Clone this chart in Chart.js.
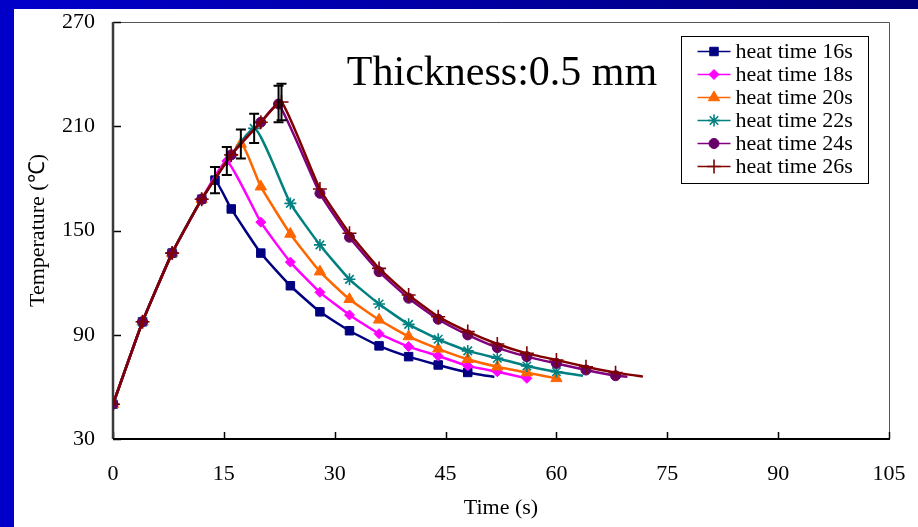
<!DOCTYPE html>
<html>
<head>
<meta charset="utf-8">
<script src="https://cdn.jsdelivr.net/npm/chart.js@4"></script>
<style>
  html, body { margin: 0; padding: 0; background: #fff; }
  #wrap { position: relative; width: 918px; height: 527px; overflow: hidden; }
  #topBar { position: absolute; left: 0; top: 0; width: 918px; height: 9px; background: linear-gradient(to right, #0000cc, #00007a); }
  #leftBar { position: absolute; left: 0; top: 0; width: 14px; height: 527px; background: #0000c8; }
  canvas { position: absolute; left: 0; top: 0; }
</style>
</head>
<body>
<div id="wrap">
  <canvas id="tempChart" width="918" height="527"></canvas>
  <div id="topBar"></div>
  <div id="leftBar"></div>
</div>
<script>
// Series names
const seriesLabels = ['heat time 16s', 'heat time 18s', 'heat time 20s', 'heat time 22s', 'heat time 24s', 'heat time 26s'];

// Time (s) and temperature (°C)
const time16 = [0, 4, 8, 12, 13.8, 16, 20, 24, 28, 32, 36, 40, 44, 48, 51.6];
const temp16 = [50, 97.5, 137, 168, 179, 162.4, 137, 118.2, 103.2, 92.3, 83.6, 77.4, 72.6, 68.3, 65.7];

const time18 = [0, 4, 8, 12, 15.4, 20, 24, 28, 32, 36, 40, 44, 48, 52, 56];
const temp18 = [50, 97.5, 137, 168, 190, 154.8, 131.8, 114.4, 101.4, 90.6, 83.2, 77.8, 72.1, 68.7, 64.9];

const time20 = [0, 4, 8, 12, 17.3, 20, 24, 28, 32, 36, 40, 44, 48, 52, 56, 60];
const temp20 = [50, 97.5, 137, 168, 199.8, 175.2, 148, 126.3, 110.4, 98.6, 89, 81.9, 75.9, 71.6, 68.2, 64.9];

const time22 = [0, 4, 8, 12, 19.1, 24, 28, 32, 36, 40, 44, 48, 52, 56, 60, 63.6];
const temp22 = [50, 97.5, 137, 168, 208.8, 165.6, 141.7, 121.9, 107.7, 96, 87.4, 80.7, 76.5, 72, 68.7, 66.4];

const time24 = [0, 4, 8, 12, 16, 20, 22.4, 28, 32, 36, 40, 44, 48, 52, 56, 60, 64, 68, 69.6];
const temp24 = [50, 97.5, 137, 168, 193.5, 212.3, 222.8, 171.4, 146.1, 126.3, 111, 98.9, 89.9, 82.6, 77.4, 73.5, 69.7, 66.4, 65.8];

const time26 = [0, 4, 8, 12, 16, 20, 22.8, 28, 32, 36, 40, 44, 48, 52, 56, 60, 64, 68, 71.7];
const temp26 = [50, 97.5, 137, 168, 193.5, 212.3, 224, 173.9, 148.4, 128.2, 112.9, 100.4, 91.8, 84.7, 79.3, 75.5, 71.6, 68.2, 65.9];

// Error bar half-height at each curve's peak (°C)
const peakError = [7.5, 8, 8.3, 8.4, 10.5, 10.5];
// Whether the last sample of a curve has a marker
const lastMarked = [false, true, true, false, false, false];

// Axis ticks
const xTickValues = [0, 15, 30, 45, 60, 75, 90, 105];
const yTickValues = [30, 90, 150, 210, 270];

const allTimes = [time16, time18, time20, time22, time24, time26];
const allTemps = [temp16, temp18, temp20, temp22, temp24, temp26];

// Marker / line look for each series
const styles = [
    { line: '#000080', fill: '#000080', point: 'rect', radius: 6 },
    { line: '#ff00ff', fill: '#ff00ff', point: 'rectRot', radius: 5 },
    { line: '#ff6600', fill: '#ff6600', point: 'triangle', radius: 6.5 },
    { line: '#008080', fill: '#008080', point: 'star', radius: 6 },
    { line: '#800080', fill: '#660066', point: 'circle', radius: 5 },
    { line: '#800000', fill: '#800000', point: 'cross', radius: 7 }
];

const serif = "'Liberation Serif', 'Times New Roman', serif";

const datasets = seriesLabels.map((label, i) => {
    const pts = allTimes[i].map((t, j) => ({ x: t, y: allTemps[i][j] }));
    const st = styles[i];
    return {
        label: label,
        data: pts,
        borderColor: st.line,
        backgroundColor: st.fill,
        borderWidth: 2.5,
        tension: 0.15,
        pointStyle: st.point,
        pointRadius: pts.map((p, j) => (j === pts.length - 1 && !lastMarked[i]) ? 0 : st.radius),
        pointBackgroundColor: st.fill,
        pointBorderColor: st.fill,
        pointBorderWidth: (st.point === 'star' || st.point === 'cross') ? 1.6 : 1,
        order: seriesLabels.length - i
    };
});

// Frame, inner ticks, error bars, title and boxed legend
const decorPlugin = {
    id: 'decor',
    beforeDatasetsDraw(chart) {
        const { ctx, chartArea: a, scales: { x, y } } = chart;
        ctx.save();
        ctx.strokeStyle = '#555';
        ctx.lineWidth = 1;
        ctx.beginPath();
        ctx.moveTo(a.left, a.top + 0.5);
        ctx.lineTo(a.right + 0.5, a.top + 0.5);
        ctx.lineTo(a.right + 0.5, a.bottom);
        ctx.stroke();
        ctx.strokeStyle = '#000';
        ctx.lineWidth = 1.5;
        xTickValues.forEach(v => {
            const px = Math.round(x.getPixelForValue(v)) + 0.5;
            ctx.beginPath();
            ctx.moveTo(px, a.bottom);
            ctx.lineTo(px, a.bottom - 7);
            ctx.stroke();
        });
        yTickValues.forEach(v => {
            const py = Math.round(y.getPixelForValue(v)) + 0.5;
            ctx.beginPath();
            ctx.moveTo(a.left, py);
            ctx.lineTo(a.left + 8, py);
            ctx.stroke();
        });
        ctx.strokeStyle = '#3a3a3a';
        ctx.lineWidth = 2.5;
        ctx.beginPath();
        ctx.moveTo(a.left, a.top);
        ctx.lineTo(a.left, a.bottom);
        ctx.stroke();
        ctx.strokeStyle = '#000';
        ctx.lineWidth = 2;
        ctx.beginPath();
        ctx.moveTo(a.left, a.bottom);
        ctx.lineTo(a.right + 1, a.bottom);
        ctx.stroke();
        ctx.restore();
    },
    afterDatasetsDraw(chart) {
        const { ctx, scales: { x, y } } = chart;
        ctx.save();
        ctx.strokeStyle = '#000';
        ctx.lineWidth = 2;
        allTemps.forEach((temps, i) => {
            const k = temps.indexOf(Math.max(...temps));
            const px = x.getPixelForValue(allTimes[i][k]);
            const top = y.getPixelForValue(temps[k] + peakError[i]);
            const bot = y.getPixelForValue(temps[k] - peakError[i]);
            ctx.beginPath();
            ctx.moveTo(px, top);
            ctx.lineTo(px, bot);
            ctx.moveTo(px - 5, top);
            ctx.lineTo(px + 5, top);
            ctx.moveTo(px - 5, bot);
            ctx.lineTo(px + 5, bot);
            ctx.stroke();
        });
        ctx.restore();
    },
    afterDraw(chart) {
        const { ctx, chartArea: a } = chart;
        ctx.save();
        // title inside the plot
        ctx.fillStyle = '#000';
        ctx.font = '42px ' + serif;
        ctx.textAlign = 'center';
        ctx.textBaseline = 'alphabetic';
        ctx.fillText('Thickness:0.5 mm', (a.left + a.right) / 2 + 1, a.top + 63);

        // legend box
        const bx = a.right - 207.5, by = a.top + 14.5, bw = 187, bh = 147;
        ctx.fillStyle = '#fff';
        ctx.fillRect(bx, by, bw, bh);
        ctx.strokeStyle = '#000';
        ctx.lineWidth = 1;
        ctx.strokeRect(bx, by, bw, bh);
        ctx.font = '22px ' + serif;
        ctx.textAlign = 'left';
        ctx.textBaseline = 'middle';
        chart.data.datasets.forEach((ds, i) => {
            const ry = by + 15 + i * 23;
            const sx = bx + 16;
            ctx.strokeStyle = ds.borderColor;
            ctx.lineWidth = 1.5;
            ctx.beginPath();
            ctx.moveTo(sx, ry);
            ctx.lineTo(sx + 33, ry);
            ctx.stroke();
            ctx.fillStyle = ds.pointBackgroundColor;
            ctx.strokeStyle = ds.pointBorderColor;
            ctx.lineWidth = ds.pointBorderWidth;
            Chart.helpers.drawPoint(ctx, {
                pointStyle: ds.pointStyle,
                radius: styles[i].radius,
                borderWidth: ds.pointBorderWidth,
                rotation: 0
            }, sx + 16.5, ry);
            ctx.fillStyle = '#000';
            ctx.fillText(ds.label, bx + 54, ry + 1);
        });
        ctx.restore();
    }
};

// keep label overhang from shrinking the plot area
function noOverhang(s) {
    s.paddingLeft = 0;
    s.paddingRight = 0;
    s.paddingTop = 0;
    s.paddingBottom = 0;
}

Chart.defaults.color = '#000';
Chart.defaults.font.family = serif;

const ctx = document.getElementById('tempChart').getContext('2d');
const tempChart = new Chart(ctx, {
    type: 'line',
    data: { datasets: datasets },
    options: {
        responsive: false,
        animation: false,
        devicePixelRatio: 1,
        layout: { padding: { left: 0, top: 22, right: 29, bottom: 0 } },
        plugins: {
            legend: { display: false },
            tooltip: { enabled: false }
        },
        scales: {
            x: {
                type: 'linear',
                min: 0,
                max: 105,
                afterBuildTicks: s => { s.ticks = xTickValues.map(v => ({ value: v })); },
                afterFit: s => { s.height = 88; noOverhang(s); },
                grid: { display: false },
                border: { display: false },
                ticks: { font: { size: 22 }, padding: 14, maxRotation: 0 },
                title: { display: true, text: 'Time (s)', font: { size: 22 }, padding: { top: 0, bottom: 6 } }
            },
            y: {
                type: 'linear',
                min: 30,
                max: 270,
                afterBuildTicks: s => { s.ticks = yTickValues.map(v => ({ value: v })); },
                afterFit: s => { s.width = 113; noOverhang(s); },
                grid: { display: false },
                border: { display: false },
                ticks: { font: { size: 22 }, padding: 10 },
                title: { display: true, text: 'Temperature (℃)', font: { size: 22 }, padding: { top: 25, bottom: 0 } }
            }
        }
    },
    plugins: [decorPlugin]
});
</script>
</body>
</html>
